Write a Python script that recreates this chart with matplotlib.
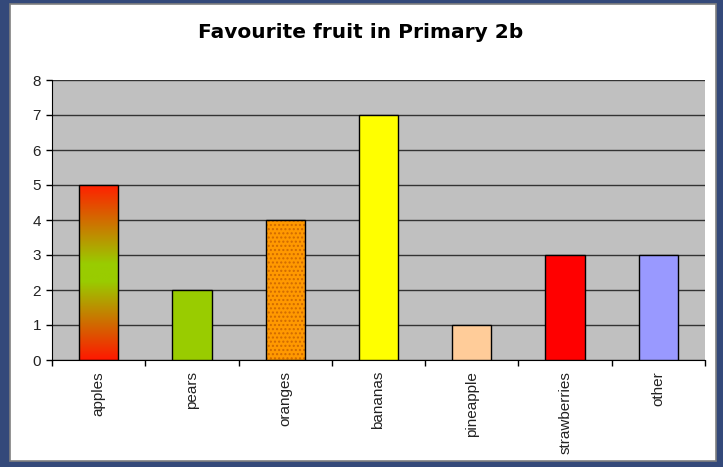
import matplotlib
matplotlib.use("Agg")
import matplotlib.pyplot as plt
import numpy as np
from matplotlib.patches import Rectangle
from matplotlib.colors import LinearSegmentedColormap

plt.rcParams['font.family'] = ['Liberation Sans', 'DejaVu Sans']

fruits = ['apples', 'pears', 'oranges', 'bananas', 'pineapple', 'strawberries', 'other']
votes = [5, 2, 4, 7, 1, 3, 3]
bar_colors = ['#FF2000', '#99CC00', '#FF9900', '#FFFF00', '#FFCC99', '#FF0000', '#9999FF']

fig = plt.figure(figsize=(7.23, 4.67), dpi=100)
fig.patch.set_facecolor('#34497A')

# white chart panel with grey border
panel = Rectangle((10 / 723, 6 / 467), 706 / 723, 457 / 467, transform=fig.transFigure,
                  facecolor='white', edgecolor='#808080', linewidth=1.2, zorder=-1)
fig.patches.append(panel)

ax = fig.add_axes([52 / 723, 107 / 467, 653 / 723, 280 / 467])
ax.set_zorder(1)
ax.set_facecolor('#C0C0C0')

x = np.arange(len(fruits))
width = 0.42

bars = ax.bar(x, votes, width=width, color=bar_colors, edgecolor='black', linewidth=1, zorder=3)

# apples: red-green-red gradient
apple_bar = bars[0]
apple_bar.set_facecolor('none')
grad_cmap = LinearSegmentedColormap.from_list(
    'apple', [(0, '#FF1800'), (0.45, '#99CC00'), (0.55, '#99CC00'), (1, '#FF2000')])
grad = np.linspace(0, 1, 256).reshape(-1, 1)
img = ax.imshow(grad, cmap=grad_cmap, aspect='auto', origin='lower',
                extent=(x[0] - width / 2, x[0] + width / 2, 0, votes[0]), zorder=2)
img.set_clip_path(apple_bar)

# oranges: dotted fill
bars[2].set_facecolor('none')
ax.bar(x[2], votes[2], width=width, color='#FF9900', edgecolor='#D06A00', hatch='....',
       linewidth=0, zorder=2)

ax.set_xlim(-0.5, len(fruits) - 0.5)
ax.set_ylim(0, 8)
ax.set_yticks(range(0, 9))
ax.yaxis.grid(True, color='#333333', linewidth=1)
ax.set_axisbelow(True)

ax.set_xticks(np.arange(len(fruits) + 1) - 0.5)
ax.set_xticklabels([])
ax.set_xticks(x, minor=True)
ax.set_xticklabels(fruits, minor=True, rotation=90, fontsize=11, color='#222222')
ax.tick_params(axis='x', which='minor', length=0, pad=8)
ax.tick_params(axis='x', which='major', length=4, width=1, direction='out')
ax.tick_params(axis='y', length=4, width=1, direction='out', labelsize=11, labelcolor='#222222', pad=4)

for side in ['top', 'right']:
    ax.spines[side].set_visible(False)
ax.spines['left'].set_color('black')
ax.spines['bottom'].set_color('black')

fig.text(361 / 723, 1 - 33 / 467, 'Favourite fruit in Primary 2b', ha='center', va='center',
         fontsize=14.5, fontweight='bold', family='DejaVu Sans')

fig.savefig('out.png', dpi=100, facecolor=fig.get_facecolor())
